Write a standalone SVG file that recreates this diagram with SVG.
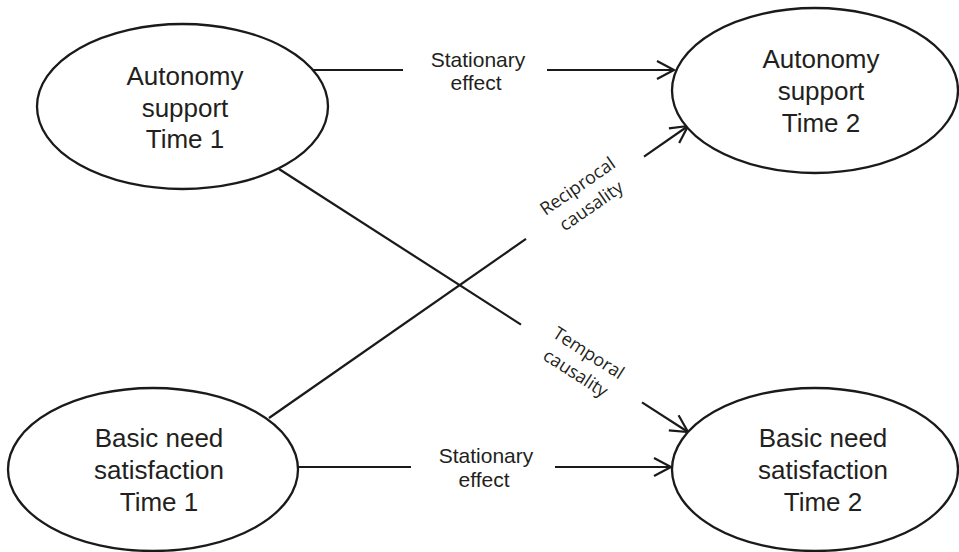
<svg xmlns="http://www.w3.org/2000/svg" width="959" height="552" viewBox="0 0 959 552">
<defs>
<style>
.node ellipse{fill:#fff;stroke:#1a1a1a;stroke-width:2.3}
.nt{font-family:"Liberation Sans",Arial,sans-serif;font-size:26px;fill:#231f20;text-anchor:middle}
.lbl{font-family:"Liberation Sans",Arial,sans-serif;font-size:21px;fill:#231f20;text-anchor:middle}
.dl{font-family:"Open Sans","Noto Sans",sans-serif;font-size:18px;fill:#231f20;text-anchor:middle}
.edge{stroke:#1a1a1a;stroke-width:2.2;fill:none}
</style>
<marker id="arr" markerUnits="userSpaceOnUse" markerWidth="24" markerHeight="24" viewBox="-20 -12 24 24" refX="0" refY="0" orient="auto">
<path d="M-17,-9 L0,0 L-17,9" fill="none" stroke="#1a1a1a" stroke-width="2.2"/>
</marker>
</defs>
<rect width="959" height="552" fill="#fff"/>
<g id="connectors">
<line class="edge" x1="313" y1="70" x2="403" y2="70"/>
<line class="edge" x1="547" y1="70" x2="674" y2="70" marker-end="url(#arr)"/>
<line class="edge" x1="298" y1="467" x2="411" y2="467"/>
<line class="edge" x1="555" y1="467" x2="671" y2="467" marker-end="url(#arr)"/>
<line class="edge" x1="279" y1="169" x2="521" y2="324.6"/>
<line class="edge" x1="642" y1="402.4" x2="688" y2="432" marker-end="url(#arr)"/>
<line class="edge" x1="269" y1="418" x2="526" y2="238.9"/>
<line class="edge" x1="644" y1="156.6" x2="688" y2="126" marker-end="url(#arr)"/>
<text class="lbl" x="478" y="67">Stationary</text>
<text class="lbl" x="476" y="90">effect</text>
<text class="lbl" x="486" y="463">Stationary</text>
<text class="lbl" x="484" y="487">effect</text>
<g transform="translate(585,197) rotate(-34.8)">
<text class="dl" x="0" y="-7">Reciprocal</text>
<text class="dl" x="0" y="17">causality</text>
</g>
<g transform="translate(581.5,364) rotate(32.7)">
<text class="dl" x="0" y="-7">Temporal</text>
<text class="dl" x="0" y="17">causality</text>
</g>
</g>
<g id="as1" class="node">
<ellipse cx="182.5" cy="106.5" rx="145.5" ry="82.5"/>
<text class="nt" x="185" y="85">Autonomy</text>
<text class="nt" x="185" y="116.5">support</text>
<text class="nt" x="185" y="148">Time 1</text>
</g>
<g id="as2" class="node">
<ellipse cx="815" cy="90.5" rx="143" ry="82.5"/>
<text class="nt" x="821" y="68">Autonomy</text>
<text class="nt" x="821" y="100">support</text>
<text class="nt" x="821" y="132">Time 2</text>
</g>
<g id="bn1" class="node">
<ellipse cx="153" cy="469.5" rx="145" ry="81.5"/>
<text class="nt" x="159" y="447">Basic need</text>
<text class="nt" x="159" y="479">satisfaction</text>
<text class="nt" x="159" y="511">Time 1</text>
</g>
<g id="bn2" class="node">
<ellipse cx="815" cy="469.5" rx="143" ry="81.5"/>
<text class="nt" x="823" y="447">Basic need</text>
<text class="nt" x="823" y="479">satisfaction</text>
<text class="nt" x="823" y="511">Time 2</text>
</g>
</svg>
